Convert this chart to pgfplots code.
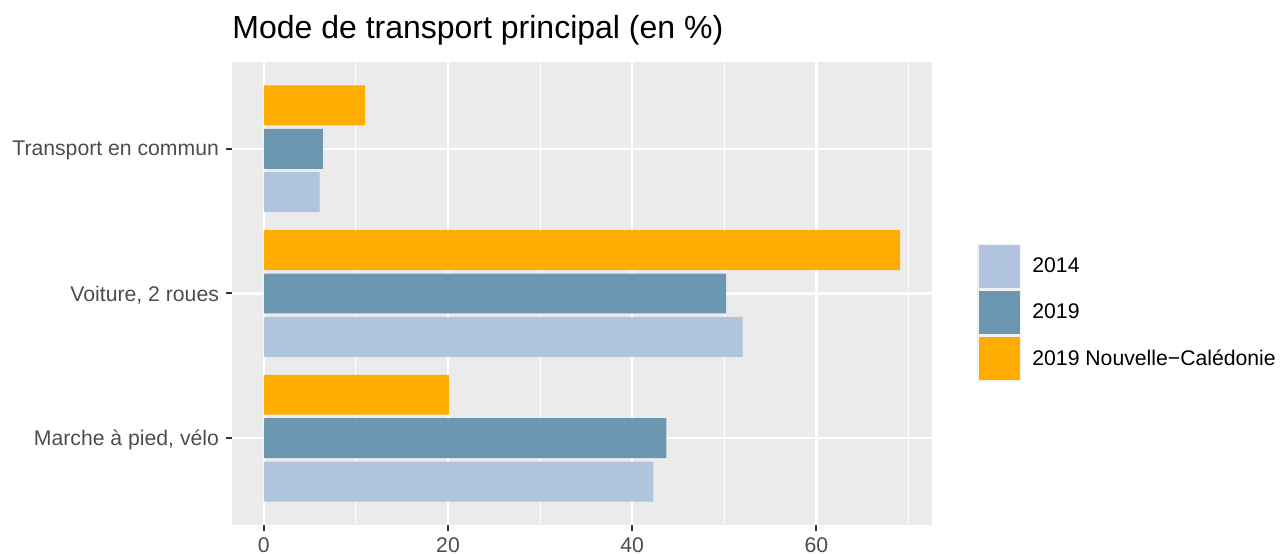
\documentclass[border=0pt]{standalone}
\usepackage{pgfplots}
\pgfplotsset{compat=1.18}
\usepackage{fontspec}
\setmainfont{Liberation Sans}

\definecolor{c2014}{RGB}{176,196,222}
\definecolor{c2019}{RGB}{108,151,176}
\definecolor{cnc}{RGB}{255,174,0}
\definecolor{panel}{RGB}{235,235,235}
\definecolor{ticktext}{RGB}{77,77,77}
\definecolor{tickline}{RGB}{51,51,51}
\definecolor{keybg}{RGB}{242,242,242}

\begin{document}
\begin{tikzpicture}
\begin{axis}[
    scale only axis, width=350pt, height=231.5pt,
    xbar, bar width=0.276,
    xmin=-3.455, xmax=72.55, ymin=0.4, ymax=3.6,
    xtick={0,20,40,60}, minor xtick={10,30,50,70},
    ytick={1,2,3},
    yticklabels={{Marche à pied, vélo},{Voiture, 2 roues},{Transport en commun}},
    axis background/.style={fill=panel},
    axis line style={draw=none},
    grid=both,
    major grid style={white, line width=1.1pt},
    minor grid style={white, line width=0.55pt},
    tick align=outside, xtick pos=bottom, ytick pos=left,
    major tick length=3pt, minor tick length=0pt,
    tick style={tickline, line width=1pt},
    ticklabel style={font=\fontsize{10.6}{12}\selectfont, text=ticktext},
    yticklabel style={yshift=-1pt},
    /pgf/number format/assume math mode=true,
    title={Mode de transport principal (en \%)},
    title style={at={(0,1)}, anchor=base west, yshift=5.5pt, inner sep=0pt,
        font=\fontsize{16}{19}\selectfont},
    legend image code/.code={
        \fill[keybg] (0pt,-11.5pt) rectangle (22pt,11.5pt);
        \path[#1,draw=none] (0.75pt,-10.75pt) rectangle (21.25pt,10.75pt);
    },
    legend style={at={(axis description cs:1,0.458)}, anchor=west, xshift=22.5pt,
        draw=none, fill=none, inner sep=0pt, row sep=0pt,
        font=\fontsize{10.6}{12}\selectfont, cells={anchor=west},
        /tikz/every odd column/.append style={column sep=3.5pt}},
    legend cell align=left,
]
\addplot[fill=c2014, draw=none, bar shift=-0.3] coordinates {(42.3,1) (52.0,2) (6.05,3)};
\addplot[fill=c2019, draw=none, bar shift=0] coordinates {(43.7,1) (50.2,2) (6.4,3)};
\addplot[fill=cnc, draw=none, bar shift=0.3] coordinates {(20.1,1) (69.1,2) (11.0,3)};
\legend{2014, 2019, 2019 Nouvelle−Calédonie}
\coordinate (bl) at (rel axis cs:0,0);
\coordinate (tr) at (rel axis cs:1,1);
\end{axis}
\pgfresetboundingbox
\path ([xshift=-116pt,yshift=-14.5pt]bl) rectangle ([xshift=174.5pt,yshift=31pt]tr);
\end{tikzpicture}
\end{document}
